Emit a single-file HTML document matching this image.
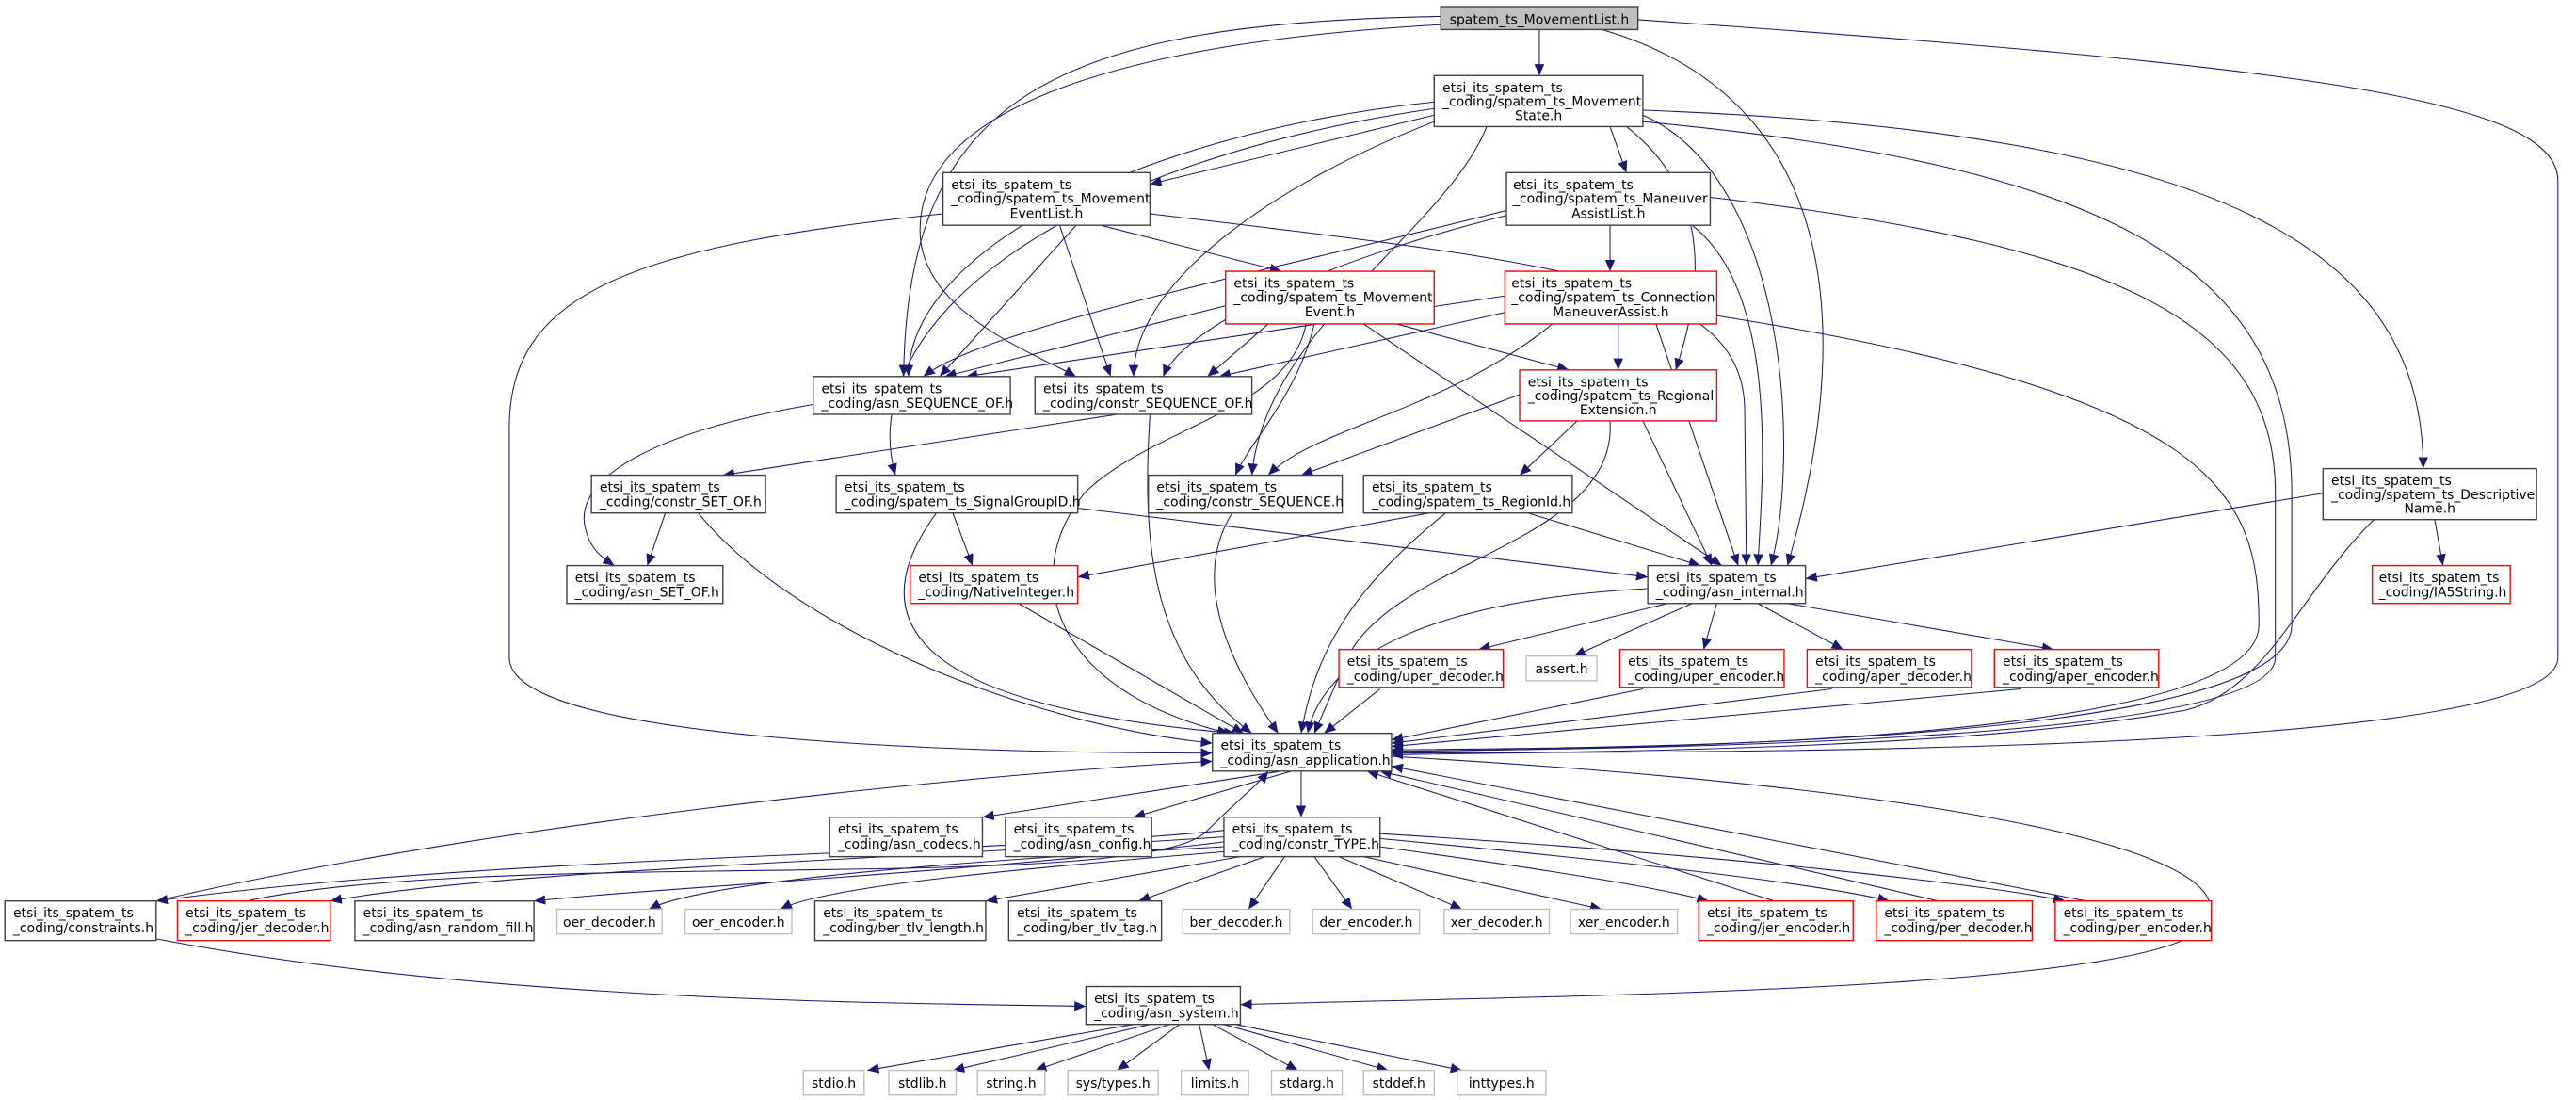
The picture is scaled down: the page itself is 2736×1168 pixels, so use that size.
<!DOCTYPE html>
<html><head><meta charset="utf-8">
<style>
html,body{margin:0;padding:0;background:#fff;}
svg{display:block;}
text{font-family:"DejaVu Sans","Liberation Sans",sans-serif;font-size:8px;fill:#000;}
.n rect{fill:#fff;stroke:#404040;stroke-width:0.8;}
.r rect{fill:#fff;stroke:#ff0000;stroke-width:0.8;}
.g rect{fill:#fff;stroke:#bfbfbf;stroke-width:0.8;}
</style></head>
<body>
<svg id="s" width="2736" height="1168" viewBox="0 0 1568 669" preserveAspectRatio="none" xmlns="http://www.w3.org/2000/svg">
<defs>
<marker id="ah" markerUnits="userSpaceOnUse" markerWidth="8" markerHeight="6" refX="7" refY="3" orient="auto">
<path d="M0,0 L7,3 L0,6 z" fill="#191970"/>
</marker>
</defs>
<g id="edges" fill="none" stroke="#191970" stroke-width="0.6"></g>
<g id="nodes">
<g class="n"><rect x="877" y="4" width="120" height="14" style="fill:#bfbfbf"/><text x="937" y="14.5" text-anchor="middle">spatem_ts_MovementList.h</text></g>

<g class="n"><rect x="873" y="46" width="127" height="31"/><text x="878" y="56">etsi_its_spatem_ts</text><text x="878" y="64.5">_coding/spatem_ts_Movement</text><text x="936.5" y="73" text-anchor="middle">State.h</text></g>

<g class="n"><rect x="574" y="105" width="126" height="32"/><text x="579" y="115">etsi_its_spatem_ts</text><text x="579" y="123.5">_coding/spatem_ts_Movement</text><text x="637" y="132.5" text-anchor="middle">EventList.h</text></g>

<g class="n"><rect x="917" y="105" width="124" height="32"/><text x="921" y="115">etsi_its_spatem_ts</text><text x="921" y="123.5">_coding/spatem_ts_Maneuver</text><text x="979" y="132.5" text-anchor="middle">AssistList.h</text></g>

<g class="r"><rect x="746" y="165" width="127" height="32"/><text x="751" y="175">etsi_its_spatem_ts</text><text x="751" y="183.5">_coding/spatem_ts_Movement</text><text x="809.5" y="192.5" text-anchor="middle">Event.h</text></g>

<g class="r"><rect x="916" y="165" width="129" height="32"/><text x="920" y="175">etsi_its_spatem_ts</text><text x="920" y="183.5">_coding/spatem_ts_Connection</text><text x="980.5" y="192.5" text-anchor="middle">ManeuverAssist.h</text></g>

<g class="n"><rect x="495" y="229" width="120" height="23"/><text x="500" y="239">etsi_its_spatem_ts</text><text x="500" y="248">_coding/asn_SEQUENCE_OF.h</text></g>

<g class="n"><rect x="630" y="229" width="132" height="23"/><text x="635" y="239">etsi_its_spatem_ts</text><text x="635" y="248">_coding/constr_SEQUENCE_OF.h</text></g>

<g class="r"><rect x="925" y="225" width="120" height="31"/><text x="930" y="235">etsi_its_spatem_ts</text><text x="930" y="243.5">_coding/spatem_ts_Regional</text><text x="985" y="252" text-anchor="middle">Extension.h</text></g>

<g class="n"><rect x="360" y="289" width="106" height="23"/><text x="365" y="299">etsi_its_spatem_ts</text><text x="365" y="308">_coding/constr_SET_OF.h</text></g>

<g class="n"><rect x="509" y="289" width="147" height="23"/><text x="514" y="299">etsi_its_spatem_ts</text><text x="514" y="308">_coding/spatem_ts_SignalGroupID.h</text></g>

<g class="n"><rect x="699" y="289" width="118" height="23"/><text x="704" y="299">etsi_its_spatem_ts</text><text x="704" y="308">_coding/constr_SEQUENCE.h</text></g>

<g class="n"><rect x="830" y="289" width="127" height="23"/><text x="835" y="299">etsi_its_spatem_ts</text><text x="835" y="308">_coding/spatem_ts_RegionId.h</text></g>

<g class="n"><rect x="1414" y="285" width="130" height="31"/><text x="1419" y="295">etsi_its_spatem_ts</text><text x="1419" y="303.5">_coding/spatem_ts_Descriptive</text><text x="1479" y="312" text-anchor="middle">Name.h</text></g>

<g class="n"><rect x="345" y="344" width="95" height="23"/><text x="350" y="354">etsi_its_spatem_ts</text><text x="350" y="363">_coding/asn_SET_OF.h</text></g>

<g class="r"><rect x="554" y="344" width="102" height="23"/><text x="559" y="354">etsi_its_spatem_ts</text><text x="559" y="363">_coding/NativeInteger.h</text></g>

<g class="n"><rect x="1003" y="344" width="96" height="23"/><text x="1008" y="354">etsi_its_spatem_ts</text><text x="1008" y="363">_coding/asn_internal.h</text></g>

<g class="r"><rect x="1444" y="344" width="84" height="23"/><text x="1448" y="354">etsi_its_spatem_ts</text><text x="1448" y="363">_coding/IA5String.h</text></g>

<g class="r"><rect x="815" y="395" width="100" height="23"/><text x="820" y="405">etsi_its_spatem_ts</text><text x="820" y="414">_coding/uper_decoder.h</text></g>
<g class="g"><rect x="929" y="399" width="43" height="15"/><text x="950.5" y="409.5" text-anchor="middle">assert.h</text></g>
<g class="r"><rect x="986" y="395" width="100" height="23"/><text x="991" y="405">etsi_its_spatem_ts</text><text x="991" y="414">_coding/uper_encoder.h</text></g>
<g class="r"><rect x="1100" y="395" width="100" height="23"/><text x="1105" y="405">etsi_its_spatem_ts</text><text x="1105" y="414">_coding/aper_decoder.h</text></g>
<g class="r"><rect x="1214" y="395" width="100" height="23"/><text x="1219" y="405">etsi_its_spatem_ts</text><text x="1219" y="414">_coding/aper_encoder.h</text></g>

<g class="n"><rect x="738" y="446" width="109" height="23"/><text x="743" y="456">etsi_its_spatem_ts</text><text x="743" y="465">_coding/asn_application.h</text></g>

<g class="n"><rect x="505" y="497" width="93" height="24"/><text x="510" y="507">etsi_its_spatem_ts</text><text x="510" y="516">_coding/asn_codecs.h</text></g>
<g class="n"><rect x="612" y="497" width="89" height="24"/><text x="617" y="507">etsi_its_spatem_ts</text><text x="617" y="516">_coding/asn_config.h</text></g>
<g class="n"><rect x="745" y="497" width="95" height="24"/><text x="750" y="507">etsi_its_spatem_ts</text><text x="750" y="516">_coding/constr_TYPE.h</text></g>

<g class="n"><rect x="3" y="548" width="92" height="24"/><text x="8" y="558">etsi_its_spatem_ts</text><text x="8" y="567">_coding/constraints.h</text></g>
<g class="r"><rect x="108" y="548" width="93" height="24"/><text x="113" y="558">etsi_its_spatem_ts</text><text x="113" y="567">_coding/jer_decoder.h</text></g>
<g class="n"><rect x="216" y="548" width="109" height="24"/><text x="221" y="558">etsi_its_spatem_ts</text><text x="221" y="567">_coding/asn_random_fill.h</text></g>
<g class="g"><rect x="339" y="553" width="64" height="15"/><text x="371" y="563.5" text-anchor="middle">oer_decoder.h</text></g>
<g class="g"><rect x="417" y="553" width="65" height="15"/><text x="449.5" y="563.5" text-anchor="middle">oer_encoder.h</text></g>
<g class="n"><rect x="496" y="548" width="104" height="24"/><text x="501" y="558">etsi_its_spatem_ts</text><text x="501" y="567">_coding/ber_tlv_length.h</text></g>
<g class="n"><rect x="614" y="548" width="93" height="24"/><text x="619" y="558">etsi_its_spatem_ts</text><text x="619" y="567">_coding/ber_tlv_tag.h</text></g>
<g class="g"><rect x="720" y="553" width="65" height="15"/><text x="752.5" y="563.5" text-anchor="middle">ber_decoder.h</text></g>
<g class="g"><rect x="799" y="553" width="65" height="15"/><text x="831.5" y="563.5" text-anchor="middle">der_encoder.h</text></g>
<g class="g"><rect x="879" y="553" width="64" height="15"/><text x="911" y="563.5" text-anchor="middle">xer_decoder.h</text></g>
<g class="g"><rect x="956" y="553" width="65" height="15"/><text x="988.5" y="563.5" text-anchor="middle">xer_encoder.h</text></g>
<g class="r"><rect x="1034" y="548" width="94" height="24"/><text x="1039" y="558">etsi_its_spatem_ts</text><text x="1039" y="567">_coding/jer_encoder.h</text></g>
<g class="r"><rect x="1142" y="548" width="95" height="24"/><text x="1147" y="558">etsi_its_spatem_ts</text><text x="1147" y="567">_coding/per_decoder.h</text></g>
<g class="r"><rect x="1251" y="548" width="95" height="24"/><text x="1256" y="558">etsi_its_spatem_ts</text><text x="1256" y="567">_coding/per_encoder.h</text></g>

<g class="n"><rect x="661" y="600" width="94" height="23"/><text x="666" y="610">etsi_its_spatem_ts</text><text x="666" y="619">_coding/asn_system.h</text></g>

<g class="g"><rect x="489" y="651" width="37" height="15"/><text x="507.5" y="661.5" text-anchor="middle">stdio.h</text></g>
<g class="g"><rect x="541" y="651" width="41" height="15"/><text x="561.5" y="661.5" text-anchor="middle">stdlib.h</text></g>
<g class="g"><rect x="595" y="651" width="41" height="15"/><text x="615.5" y="661.5" text-anchor="middle">string.h</text></g>
<g class="g"><rect x="650" y="651" width="55" height="15"/><text x="677.5" y="661.5" text-anchor="middle">sys/types.h</text></g>
<g class="g"><rect x="719" y="651" width="41" height="15"/><text x="739.5" y="661.5" text-anchor="middle">limits.h</text></g>
<g class="g"><rect x="774" y="651" width="43" height="15"/><text x="795.5" y="661.5" text-anchor="middle">stdarg.h</text></g>
<g class="g"><rect x="830" y="651" width="43" height="15"/><text x="851.5" y="661.5" text-anchor="middle">stddef.h</text></g>
<g class="g"><rect x="887" y="651" width="54" height="15"/><text x="914" y="661.5" text-anchor="middle">inttypes.h</text></g>
</g>
</svg>
<script>
(function(){
var E=[
[937,18,937,46],
"M877,10 C640,14 552,60 550,229",
"M877,15 C700,25 560,60 560,140 C560,190 630,215 655,229",
"M975,18 C1120,60 1130,200 1088,344",
"M997,12 C1400,40 1557,60 1557,110 L1557,400 C1557,462 1000,457 847,458",
[873,70,700,112],[980,77,990,105],
"M873,62 C700,80 553,150 553,229",
"M873,74 C780,110 690,170 690,229",
"M873,66 C640,100 520,200 545,289",
"M905,77 C880,140 770,200 762,289",
"M990,77 C1045,120 1035,180 1020,225",
"M1000,70 C1090,110 1095,280 1078,344",
"M1000,67 C1350,80 1475,150 1475,285",
"M1000,74 C1280,100 1395,160 1395,300 L1395,380 C1395,452 1000,455 847,456",
[670,137,780,165],[655,137,572,229],[645,137,676,229],
"M700,130 C950,160 1062,170 1062,250 L1063,344",
"M574,130 C380,150 310,180 310,260 L310,400 C310,452 600,458 738,458",
[980,137,980,165],
"M917,128 C750,170 600,200 562,229",
"M917,131 C800,160 720,200 708,229",
"M1030,137 C1085,180 1072,300 1070,344",
"M1041,120 C1300,150 1385,200 1385,300 L1385,400 C1385,452 1000,455 847,457",
[746,186,575,229],[772,197,735,229],[850,197,955,225],
"M800,197 C790,240 760,270 752,289",
[830,197,1048,344],
"M795,197 C785,250 700,260 660,300 C620,350 640,420 748,446",
[916,180,588,229],[916,190,742,229],[985,197,985,225],
"M945,197 C880,250 800,260 772,289",
[1008,197,1058,344],
"M1045,192 C1350,240 1375,300 1375,380 C1375,452 1000,455 847,457",
[925,240,792,289],[960,256,925,289],[1000,256,1042,344],
"M980,256 C985,330 850,340 820,400 L800,446",
"M495,246 C400,262 350,290 356,320 C359,335 368,340 374,344",
[680,252,440,289],
"M700,252 C695,330 700,400 762,446",
[405,312,394,344],
"M425,312 C480,380 620,440 738,452",
[580,312,592,344],[656,309,1003,351],
"M570,312 C520,380 560,430 752,446",
"M750,312 C720,360 760,420 778,446",
[870,312,656,351],[930,312,1035,344],
"M880,312 C820,360 800,400 792,446",
[620,367,757,446],
[1414,300,1099,352],[1482,316,1487,344],
"M1445,316 C1400,360 1380,420 1330,432 C1200,455 1000,457 847,459",
[1015,367,900,395],[1030,367,958,399],[1045,367,1037,395],[1070,367,1122,395],[1088,367,1250,395],
"M1003,358 C870,365 805,400 796,446",
[840,419,806,446],[1000,419,847,450],[1115,419,847,452],[1230,419,847,454],
[780,469,598,497],[786,469,690,497],[792,469,792,497],
"M95,548 C300,500 600,470 738,463",
"M847,460 C1200,480 1380,520 1340,565 C1300,605 900,606 755,611",
"M745,505 C600,520 300,520 95,548",
"M745,509 C500,525 300,530 201,548",
"M745,512 C600,530 400,540 325,548",
"M745,515 C520,527 420,540 395,553",
"M745,518 C600,530 500,540 475,553",
[755,521,600,548],[770,521,693,548],[782,521,760,553],[800,521,823,553],[815,521,890,553],[830,521,975,553],
"M840,515 C950,530 1010,540 1040,548",
"M840,510 C1000,525 1110,538 1150,548",
"M840,507 C1050,520 1210,538 1257,548",
"M150,548 C300,515 700,545 735,505 C755,485 765,478 772,469",
[1080,548,832,469],[1180,548,840,469],[1270,548,847,466],
"M95,571 C300,610 550,610 661,612",
[690,623,528,651],[700,623,580,651],[712,623,630,651],[718,623,680,651],[730,623,736,651],[738,623,790,651],[745,623,845,651],[752,623,890,651]
];
var g=document.getElementById('edges'),ns='http://www.w3.org/2000/svg';
E.forEach(function(e){
 var d;
 if(typeof e==='string')d=e;
 else d='M'+e[0]+','+e[1]+' L'+e[2]+','+e[3];
 var p=document.createElementNS(ns,'path');p.setAttribute('d',d);p.setAttribute('marker-end','url(#ah)');g.appendChild(p);
});
})();
</script>
</body></html>
